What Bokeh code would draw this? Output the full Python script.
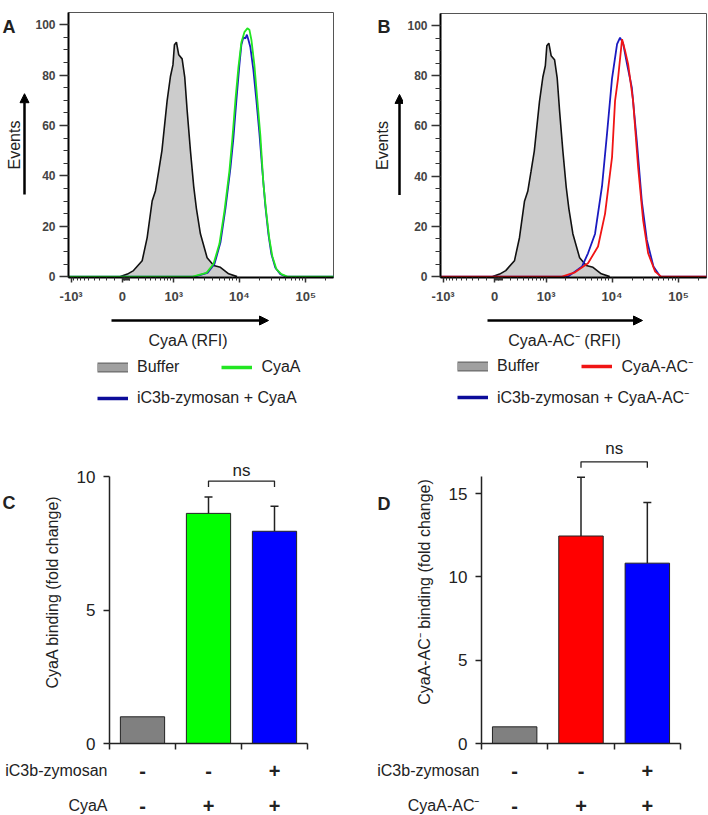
import numpy as np
from bokeh.plotting import figure
from bokeh.models import (Range1d, FixedTicker, CustomJSTickFormatter, Label, Arrow,
                          NormalHead, Legend, LegendItem, Whisker, TeeHead, ColumnDataSource)
from bokeh.core.properties import value
from bokeh.layouts import row, column
from bokeh.embed import file_html
from bokeh.resources import INLINE

FONT = "Liberation Sans"
INK = "#222222"

# ---------------- data: flow cytometry histograms (RFI, events % of mode) -------------
buffer_rfi = [-24, 60, 136, 256, 335, 424, 489, 561, 638, 780, 883, 969, 1024, 1101,
              1197, 1352, 1484, 1616, 1816, 2040, 2242, 2579, 3259, 4103, 5177, 6906, 9245]
buffer_events = [0, 1, 2.4, 6.3, 15.5, 30, 34, 42, 50, 69.8, 79.4, 84, 92, 93,
                 88, 86.4, 79.2, 66, 50, 35.7, 27, 17, 7.5, 4.4, 3.7, 1.1, 0]

cyaa_rfi = [1956, 3190, 4066, 5006, 5955, 7081, 7858, 8719, 9674, 10734, 11911, 13214,
            14163, 15178, 16840, 18686, 20737, 23006, 25525, 28324, 31426, 36105, 42941, 52848]
cyaa_events = [0, 1.5, 5, 13, 26, 42, 55, 70, 83, 93, 97, 98.5,
               98, 94, 84, 70, 56, 37, 25, 15, 8, 3, 1, 0]

zym_cyaa_rfi = [2098, 3303, 4209, 5183, 6165, 7330, 8135, 9027, 10015, 10734, 11505, 12331,
                12988, 13679, 14663, 16266, 18049, 20031, 22225, 24660, 27361, 30357, 34874,
                41467, 51044]
zym_cyaa_events = [0, 1.5, 5, 13.5, 27, 43, 55, 70, 84, 92, 95, 94.5,
                   96, 94, 91, 82, 70, 57, 42, 28, 17, 9, 3.5, 1, 0]

acm_rfi = [1762, 2772, 4358, 6165, 7858, 10015, 11113, 12331, 14163, 15714, 17437, 20737,
           24660, 29324, 34874, 44467, 54722]
acm_events = [0, 1.7, 5.3, 12, 25, 47.6, 70, 79, 94.6, 90, 84.7, 70,
              43.6, 22.5, 9.3, 2, 0]

zym_acm_rfi = [2172, 3539, 4358, 5555, 7081, 8422, 10015, 11911, 13214, 14663, 16840, 19823,
               23570, 28037, 33330, 41900, 52848]
zym_acm_events = [0, 4, 9.3, 17, 36, 57, 79, 92.6, 95.2, 93, 84.6, 75.4,
                  54, 30, 14.6, 4, 0]

x_tick_rfi = [-1000, 0, 1000, 10000, 100000]
x_tick_labels = ["-10³", "0", "10³", "10⁴", "10⁵"]
x_minor_rfi = ([-m * 100 for m in range(1, 10)] + [m * 10 for m in range(1, 10)] +
               [m * 100 for m in range(2, 10)] + [m * 1000 for m in range(2, 10)] +
               [m * 10000 for m in range(2, 10)] + [200000])
y_ticks_hist = [0, 20, 40, 60, 80, 100]

# ---------------- data: binding bar charts ----------------
conditions = ["Buffer", "Toxin", "iC3b-zymosan + Toxin"]
zymosan_row = ["-", "-", "+"]
toxin_row = ["-", "+", "+"]
c_means = [1.0, 8.62, 7.95]
c_sd = [0.0, 0.61, 0.94]
d_means = [1.0, 12.45, 10.82]
d_sd = [0.0, 3.53, 3.64]
c_ns_level = 9.83
d_ns_level = 16.9

GREEN = "#22e622"
BLUE = "#1a1ac0"
RED = "#f01414"

# ---------------- biexponential-like display transform ----------------
ASINH_W = 347.0


def to_disp(v):
    return np.arcsinh(np.asarray(v, dtype=float) / ASINH_W)


X_LO, X_HI = -1.872, 7.32
Y_LO, Y_HI = -0.35, 104.8


def base_fig(box, **kw):
    left, top, w, h = box
    return figure(width=w, height=h, output_backend="svg", toolbar_location=None, **kw)


def deco(box):
    """Blank figure whose frame covers its canvas; data coords = page pixels (y down)."""
    left, top, w, h = box
    p = base_fig(box, x_range=Range1d(left, left + w), y_range=Range1d(top + h, top),
                 x_axis_type=None, y_axis_type=None, min_border=0)
    p.outline_line_color = None
    return p


def text_label(p, x, y, text, size="16px", bold=False, align="left", baseline="middle",
               angle=0.0):
    p.add_layout(Label(x=x, y=y, text=text, text_font=FONT, text_font_size=size,
                       text_font_style="bold" if bold else "normal", text_color=INK,
                       text_align=align, text_baseline=baseline, angle=angle))


def arrow(p, x0, y0, x1, y1):
    p.add_layout(Arrow(x_start=x0, y_start=y0, x_end=x1, y_end=y1, line_width=2.5,
                       line_color="black",
                       end=NormalHead(size=9, fill_color="black", line_color="black")))


def make_hist(box, bl, br, bt, lines):
    left, top, w, h = box
    p = base_fig(box, x_range=Range1d(X_LO, X_HI), y_range=Range1d(Y_LO, Y_HI),
                 min_border_left=bl, min_border_right=br, min_border_top=bt,
                 min_border_bottom=33)
    p.grid.visible = False
    p.outline_line_color = "#555555"
    p.outline_line_width = 1

    bx = to_disp(buffer_rfi)
    p.varea(x=bx, y1=np.zeros(len(bx)), y2=buffer_events, fill_color="#cccccc")
    p.line(bx, buffer_events, line_color="#111111", line_width=1.6)
    for rfi, ev, col in lines:
        xs = np.concatenate([[X_LO - 0.5], to_disp(rfi), [X_HI + 0.5]])
        ys = [0] + list(ev) + [0]
        p.line(xs, ys, line_color=col, line_width=1.8)

    xa = p.xaxis[0]
    xa.ticker = FixedTicker(ticks=list(to_disp(x_tick_rfi)),
                            minor_ticks=list(to_disp(x_minor_rfi)))
    xa.formatter = CustomJSTickFormatter(args=dict(labels=x_tick_labels),
                                         code="return labels[index];")
    xa.major_tick_out = 5
    xa.major_tick_in = 0
    xa.minor_tick_out = 3
    xa.minor_tick_in = 0
    xa.major_label_standoff = 6
    for ax in (p.xaxis[0], p.yaxis[0]):
        ax.axis_line_width = 2
        ax.axis_line_color = "black"
        ax.major_tick_line_color = "#333333"
        ax.minor_tick_line_color = "#333333"
        ax.major_tick_line_width = 1.5
        ax.major_label_text_font = FONT
        ax.major_label_text_font_size = "12px"
        ax.major_label_text_font_style = "bold"
        ax.major_label_text_color = "#444444"
    xa.major_label_text_font_size = "13px"
    ya = p.yaxis[0]
    ya.ticker = FixedTicker(ticks=y_ticks_hist, minor_ticks=list(range(5, 101, 5)))
    ya.major_tick_out = 9
    ya.major_tick_in = 0
    ya.minor_tick_out = 5
    ya.minor_tick_in = 0
    ya.major_label_standoff = 4
    return p


def make_hist_side(box, letter, letter_x, letter_y, events_x, arrow_x):
    p = deco(box)
    text_label(p, letter_x, letter_y, letter, size="18px", bold=True, baseline="alphabetic")
    text_label(p, events_x, 155, "Events", align="center", angle=np.pi / 2)
    arrow(p, arrow_x, 213, arrow_x, 95)
    return p


def make_hist_below(box, xlabel, label_x, arrow_x0, arrow_x1, legend_x, legend_rows):
    left, top, w, h = box
    p = deco(box)
    arrow(p, arrow_x0, 320, arrow_x1, 320)
    text_label(p, label_x, 340, xlabel, align="center")
    # legend swatches: single-point line renderers (invisible on the canvas itself)
    px, py = [left + 1], [top + 1]
    box_out = p.line(x=px, y=py, line_color="#6a6a6a", line_width=10)
    box_in = p.line(x=px, y=py, line_color="#a0a0a0", line_width=7.5)
    swatches = {"box": [box_out, box_in]}
    for key, col in (("green", GREEN), ("blue", "#0c0c9a"), ("red", RED)):
        swatches[key] = [p.line(x=px, y=py, line_color=col, line_width=3.5)]
    for i, items in enumerate(legend_rows):
        row_center = 367 + 31 * i
        leg = Legend(items=[LegendItem(label=lab, renderers=swatches[k]) for lab, k in items],
                     location=(legend_x - left, top + h - (row_center + 10)),
                     orientation="horizontal", spacing=42,
                     padding=0, margin=0, glyph_width=31, glyph_height=20, label_height=20,
                     label_standoff=9, label_text_font=FONT, label_text_font_size="16px",
                     label_text_color=INK, border_line_color=None, background_fill_alpha=0)
        p.add_layout(leg)
    return p


# ---- top-left block (A) ----
pA_side = make_hist_side((0, 0, 30, 310), "A", 2, 17, 14.3, 24)
pA = make_hist((30, 0, 324, 310), 38, 21, 12,
               [(zym_cyaa_rfi, zym_cyaa_events, BLUE), (cyaa_rfi, cyaa_events, GREEN)])
pA_below = make_hist_below((0, 310, 354, 100), "CyaA (RFI)", 188, 111, 268, 97,
                           [[("Buffer", "box"), ("CyaA", "green")],
                            [("iC3b-zymosan + CyaA", "blue")]])
# ---- top-right block (B) ----
pB_side = make_hist_side((354, 0, 49, 310), "B", 377, 16, 381.7, 399)
pB = make_hist((403, 0, 305, 310), 37, 2, 13,
               [(zym_acm_rfi, zym_acm_events, BLUE), (acm_rfi, acm_events, RED)])
pB_below = make_hist_below((354, 310, 354, 100), "CyaA-AC⁻ (RFI)", 564, 487, 642, 457,
                           [[("Buffer", "box"), ("CyaA-AC⁻", "red")],
                            [("iC3b-zymosan + CyaA-AC⁻", "blue")]])


def make_bar(box, bl, br, ymax, ybound, yticks, means, sd, colors, ylabel, ns_level, ns_off):
    p = base_fig(box, x_range=Range1d(0, len(conditions)), y_range=Range1d(0, ymax),
                 min_border_left=bl, min_border_right=br, min_border_top=30,
                 min_border_bottom=14)
    p.grid.visible = False
    p.outline_line_color = None
    centers = [i + 0.5 for i in range(len(conditions))]
    p.vbar(x=centers, top=means, width=0.67, fill_color=colors, line_color=INK, line_width=1)
    idx = [i for i in range(len(means)) if sd[i] > 0]
    src = ColumnDataSource(dict(base=[centers[i] for i in idx],
                                lower=[means[i] for i in idx],
                                upper=[means[i] + sd[i] for i in idx]))
    p.add_layout(Whisker(source=src, base="base", lower="lower", upper="upper",
                         line_color=INK, line_width=1.5, lower_head=None,
                         upper_head=TeeHead(size=8, line_color=INK, line_width=1.5)))
    t = 6 * ymax / 303.0
    c1, c2 = centers[1], centers[2]
    p.line([c1, c1, c2, c2], [ns_level - t, ns_level, ns_level, ns_level - t],
           line_color=INK, line_width=1.3)
    p.add_layout(Label(x=(c1 + c2) / 2, y=ns_level, y_offset=ns_off, text="ns",
                       text_font=FONT, text_font_size="17px", text_color=INK,
                       text_align="center", text_baseline="middle"))

    xa, ya = p.xaxis[0], p.yaxis[0]
    xa.ticker = FixedTicker(ticks=list(range(len(conditions) + 1)))
    xa.formatter = CustomJSTickFormatter(code="return '';")
    xa.major_label_text_font_size = "1px"
    xa.major_label_standoff = 0
    xa.major_tick_out = 6
    xa.major_tick_in = 0
    xa.minor_tick_out = 0
    xa.minor_tick_in = 0
    ya.ticker = FixedTicker(ticks=yticks)
    ya.bounds = (0, ybound)
    ya.major_tick_out = 6
    ya.major_tick_in = 0
    ya.minor_tick_out = 0
    ya.minor_tick_in = 0
    ya.major_label_standoff = 8
    ya.major_label_text_font = FONT
    ya.major_label_text_font_size = "17px"
    ya.major_label_text_color = INK
    ya.axis_label = ylabel
    ya.axis_label_text_font = FONT
    ya.axis_label_text_font_size = "16px"
    ya.axis_label_text_font_style = "normal"
    ya.axis_label_text_color = INK
    ya.axis_label_standoff = 13
    for ax in (xa, ya):
        ax.axis_line_width = 1.5
        ax.axis_line_color = INK
        ax.major_tick_line_color = INK
        ax.major_tick_line_width = 1.5
    return p


def make_table(box, bl, br, toxin_label):
    left, top, w, h = box
    p = base_fig(box, x_range=Range1d(0, len(conditions)), y_range=Range1d(top + h, top),
                 x_axis_type=None, min_border_left=bl, min_border_right=br,
                 min_border_top=0, min_border_bottom=0)
    p.grid.visible = False
    p.outline_line_color = None
    rows = [(770, "iC3b-zymosan", zymosan_row), (805, toxin_label, toxin_row)]
    ya = p.yaxis[0]
    ya.ticker = FixedTicker(ticks=[r[0] for r in rows])
    ya.major_label_overrides = {r[0]: r[1] for r in rows}
    ya.axis_line_color = None
    ya.major_tick_line_color = None
    ya.major_tick_out = 0
    ya.major_tick_in = 0
    ya.minor_tick_out = 0
    ya.minor_tick_in = 0
    ya.major_label_standoff = 2
    ya.major_label_text_font = FONT
    ya.major_label_text_font_size = "16px"
    ya.major_label_text_color = INK
    centers = [i + 0.5 for i in range(len(conditions))]
    for y, _, marks in rows:
        p.text(x=centers, y=[y] * len(centers), text=marks, text_font=value(FONT),
               text_font_size="20px", text_font_style="bold", text_color=INK,
               text_align="center", text_baseline="middle")
    return p


def make_bar_side(box, letter, letter_x, letter_y):
    p = deco(box)
    text_label(p, letter_x, letter_y, letter, size="18px", bold=True, baseline="alphabetic")
    return p


# ---- bottom-left block (C) ----
pC_side = make_bar_side((0, 410, 30, 347), "C", 2, 482)
pC = make_bar((30, 410, 324, 347), 79, 47, 11.35, 10, [0, 5, 10], c_means, c_sd,
              ["#808080", "#00ff00", "#0000ff"], "CyaA binding (fold change)",
              c_ns_level, 11)
pC_tab = make_table((0, 757, 354, 58), 109, 47, "CyaA")
# ---- bottom-right block (D) ----
pD_side = make_bar_side((354, 410, 38, 347), "D", 377, 483)
pD = make_bar((392, 410, 316, 347), 89, 28, 18.18, 16, [0, 5, 10, 15], d_means, d_sd,
              ["#808080", "#ff0000", "#0000ff"], "CyaA-AC⁻ binding (fold change)",
              d_ns_level, 13)
pD_tab = make_table((354, 757, 354, 58), 127, 28, "CyaA-AC⁻")

layout = column(
    row(column(row(pA_side, pA), pA_below), column(row(pB_side, pB), pB_below)),
    row(column(row(pC_side, pC), pC_tab), column(row(pD_side, pD), pD_tab)),
)
open("out.html", "w").write(file_html(layout, INLINE))
